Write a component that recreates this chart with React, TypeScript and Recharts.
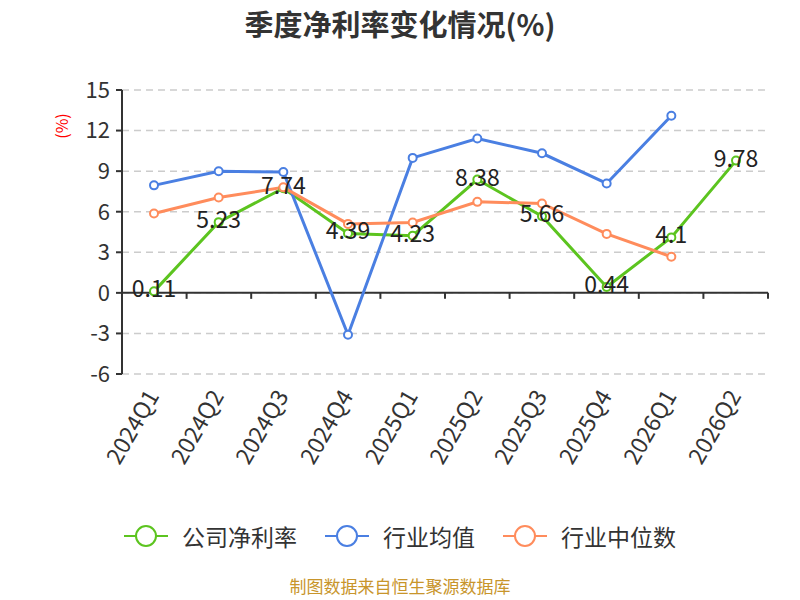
import React from 'react';
import {
  LineChart,
  Line,
  XAxis,
  YAxis,
  CartesianGrid,
  Legend,
  ReferenceLine,
  LabelList,
} from 'recharts';

const FONT = "'Noto Sans CJK SC', 'Noto Sans', sans-serif";

const quarters = ['2024Q1', '2024Q2', '2024Q3', '2024Q4', '2025Q1', '2025Q2', '2025Q3', '2025Q4', '2026Q1', '2026Q2'];
const companyMargin = [0.11, 5.23, 7.74, 4.39, 4.23, 8.38, 5.66, 0.44, 4.1, 9.78];
const industryAvg = [7.95, 8.99, 8.94, -3.1, 9.98, 11.41, 10.32, 8.09, 13.09, null];
const industryMedian = [5.87, 7.05, 7.8, 5.1, 5.2, 6.73, 6.61, 4.36, 2.67, null];
const yTicks = [-6, -3, 0, 3, 6, 9, 12, 15];

const series = [
  { key: 'company', name: '公司净利率', color: '#5cc41f' },
  { key: 'avg', name: '行业均值', color: '#4a7fe2' },
  { key: 'median', name: '行业中位数', color: '#ff8c5c' },
];

const data = quarters.map((q, i) => ({
  quarter: q,
  company: companyMargin[i],
  avg: industryAvg[i],
  median: industryMedian[i],
}));

const XTick = (props: any) => {
  const { x, y, payload } = props;
  const ax = x - 1;
  const ay = y + 10;
  return (
    <text
      x={ax}
      y={ay}
      transform={`rotate(-60, ${ax}, ${ay})`}
      textAnchor="end"
      dy="0.35em"
      fontSize={23}
      fill="#333"
      fontFamily={FONT}
    >
      {payload.value}
    </text>
  );
};

// zero line with the category boundary ticks hanging below it
const ZeroAxis = (props: any) => {
  const { x1, y1, x2 } = props;
  const left = Math.min(x1, x2);
  const right = Math.max(x1, x2);
  const step = (right - left) / quarters.length;
  const marks = [];
  for (let i = 1; i <= quarters.length; i++) {
    const tx = left + step * i;
    marks.push(<line key={i} x1={tx} y1={y1} x2={tx} y2={y1 + 6} stroke="#333" strokeWidth={2} />);
  }
  return (
    <g>
      <line x1={left} y1={y1} x2={right} y2={y1} stroke="#333" strokeWidth={2} />
      {marks}
    </g>
  );
};

const ValueLabel = (props: any) => {
  const { x, y, value } = props;
  return (
    <text x={x} y={y + 6} textAnchor="middle" fontSize={23} fill="#222" fontFamily={FONT}>
      {value}
    </text>
  );
};

const LegendContent = () => (
  <div style={{ display: 'flex', justifyContent: 'center', gap: 28, fontFamily: FONT }}>
    {series.map((s) => (
      <div key={s.key} style={{ display: 'flex', alignItems: 'center', gap: 14 }}>
        <svg width={44} height={24}>
          <line x1={0} y1={12} x2={44} y2={12} stroke={s.color} strokeWidth={2} />
          <circle cx={22} cy={12} r={10} fill="#fff" stroke={s.color} strokeWidth={2} />
        </svg>
        <span style={{ fontSize: 23, color: '#333' }}>{s.name}</span>
      </div>
    ))}
  </div>
);

const App: React.FC = () => {
  return (
    <div style={{ position: 'absolute', left: 0, top: 0, width: 800, height: 600, background: '#fff', overflow: 'hidden' }}>
      <div
        style={{
          position: 'absolute',
          top: 2,
          left: 0,
          width: 800,
          textAlign: 'center',
          fontFamily: FONT,
          fontSize: 29,
          fontWeight: 'bold',
          color: '#333',
        }}
      >
        季度净利率变化情况(%)
      </div>
      <LineChart width={800} height={600} data={data} margin={{ top: 90, right: 32, left: 0, bottom: 116 }}>
        <CartesianGrid vertical={false} stroke="#ccc" strokeWidth={1.5} strokeDasharray="7 5" />
        <XAxis
          dataKey="quarter"
          height={110}
          axisLine={false}
          tickLine={false}
          interval={0}
          padding={{ left: 32, right: 32 }}
          tick={<XTick />}
        />
        <YAxis
          width={122}
          domain={[-6, 15]}
          ticks={yTicks}
          interval={0}
          axisLine={{ stroke: '#333', strokeWidth: 2 }}
          tickLine={{ stroke: '#333', strokeWidth: 2 }}
          tickSize={6}
          tickMargin={6}
          tick={{ fontSize: 22, fill: '#333', fontFamily: FONT }}
          label={(p: any) => {
            const vb = p.viewBox || { x: 0, y: 90 };
            const lx = vb.x + 62;
            const ly = vb.y + 36;
            return (
              <text
                x={lx}
                y={ly}
                transform={`rotate(-90, ${lx}, ${ly})`}
                textAnchor="middle"
                dy="0.35em"
                fontSize={16}
                fill="#f00"
                fontFamily={FONT}
              >
                (%)
              </text>
            );
          }}
        />
        <ReferenceLine y={0} shape={<ZeroAxis />} />
        <Line
          dataKey="company"
          name="公司净利率"
          stroke={series[0].color}
          strokeWidth={3}
          dot={{ r: 4, fill: '#fff', stroke: series[0].color, strokeWidth: 2 }}
          isAnimationActive={false}
        >
          <LabelList dataKey="company" content={<ValueLabel />} />
        </Line>
        <Line
          dataKey="avg"
          name="行业均值"
          stroke={series[1].color}
          strokeWidth={3}
          dot={{ r: 4, fill: '#fff', stroke: series[1].color, strokeWidth: 2 }}
          isAnimationActive={false}
        />
        <Line
          dataKey="median"
          name="行业中位数"
          stroke={series[2].color}
          strokeWidth={3}
          dot={{ r: 4, fill: '#fff', stroke: series[2].color, strokeWidth: 2 }}
          isAnimationActive={false}
        />
        <Legend
          verticalAlign="middle"
          layout="horizontal"
          content={<LegendContent />}
          wrapperStyle={{ top: 519, left: 0, width: 800 }}
        />
      </LineChart>
      <div
        style={{
          position: 'absolute',
          top: 577,
          left: 0,
          width: 800,
          textAlign: 'center',
          fontFamily: FONT,
          fontSize: 17,
          lineHeight: '18px',
          color: '#c8952b',
        }}
      >
        制图数据来自恒生聚源数据库
      </div>
    </div>
  );
};

export default App;
